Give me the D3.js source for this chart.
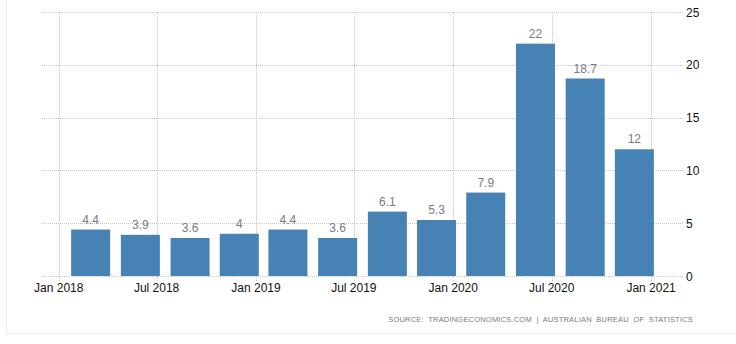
<!DOCTYPE html>
<html>
<head>
<meta charset="utf-8">
<script src="https://cdn.jsdelivr.net/npm/d3@7"></script>
<style>
  html, body { margin: 0; padding: 0; background: #fff; }
  svg { display: block; }
</style>
</head>
<body>
<svg id="chart" width="736" height="344"></svg>
<script>
// Quarterly values (bars centred on the first day of each quarter's last month)
const periods = ["2018-03-01","2018-06-01","2018-09-01","2018-12-01",
                 "2019-03-01","2019-06-01","2019-09-01","2019-12-01",
                 "2020-03-01","2020-06-01","2020-09-01","2020-12-01"];
const values = [4.4, 3.9, 3.6, 4, 4.4, 3.6, 6.1, 5.3, 7.9, 22, 18.7, 12];
const valueLabels = ["4.4","3.9","3.6","4","4.4","3.6","6.1","5.3","7.9","22","18.7","12"];
const xTickDates = ["2018-01-01","2018-07-01","2019-01-01","2019-07-01","2020-01-01","2020-07-01","2021-01-01"];
const xTickLabels = ["Jan 2018","Jul 2018","Jan 2019","Jul 2019","Jan 2020","Jul 2020","Jan 2021"];
const yTicks = [0, 5, 10, 15, 20, 25];
const sourceText = "SOURCE:  TRADINGECONOMICS.COM  |  AUSTRALIAN  BUREAU  OF  STATISTICS";

const parse = d3.utcParse("%Y-%m-%d");
const svg = d3.select("#chart");

const plot = { left: 42, right: 683, top: 12, bottom: 276 };

const x = d3.scaleUtc()
  .domain([parse("2017-12-01"), parse("2021-03-01")])
  .range([plot.left, plot.right]);

const y = d3.scaleLinear()
  .domain([0, 25])
  .range([plot.bottom, plot.top]);

const barWidth = 39;
const font = "'Liberation Sans', Arial, sans-serif";

// outer frame
svg.append("path")
  .attr("d", `M6.5,0 V333.5 H736`)
  .attr("fill", "none")
  .attr("stroke", "#ececec")
  .attr("stroke-width", 1);

// horizontal grid
svg.append("g")
  .selectAll("line")
  .data(yTicks)
  .join("line")
  .attr("x1", plot.left)
  .attr("x2", plot.right)
  .attr("y1", d => Math.round(y(d)) + 0.5)
  .attr("y2", d => Math.round(y(d)) + 0.5)
  .attr("stroke", "#c4c4c4")
  .attr("stroke-dasharray", "1,1");

// vertical grid
svg.append("g")
  .selectAll("line")
  .data(xTickDates)
  .join("line")
  .attr("x1", d => Math.round(x(parse(d))) + 0.5)
  .attr("x2", d => Math.round(x(parse(d))) + 0.5)
  .attr("y1", plot.top)
  .attr("y2", plot.bottom + 5)
  .attr("stroke", "#c4c4c4")
  .attr("stroke-dasharray", "1,1");

// bars
svg.append("g")
  .selectAll("rect")
  .data(values)
  .join("rect")
  .attr("x", (d, i) => x(parse(periods[i])) - barWidth / 2)
  .attr("width", barWidth)
  .attr("y", d => y(d))
  .attr("height", d => y(0) - y(d))
  .attr("fill", "#4682b4");

// value labels
svg.append("g")
  .selectAll("text")
  .data(values)
  .join("text")
  .attr("x", (d, i) => x(parse(periods[i])))
  .attr("y", d => y(d) - 6)
  .attr("text-anchor", "middle")
  .attr("font-family", font)
  .attr("font-size", 12)
  .attr("fill", "#7a7a84")
  .text((d, i) => valueLabels[i]);

// x axis labels
svg.append("g")
  .selectAll("text")
  .data(xTickDates)
  .join("text")
  .attr("x", d => x(parse(d)))
  .attr("y", 292)
  .attr("text-anchor", "middle")
  .attr("font-family", font)
  .attr("font-size", 12)
  .attr("fill", "#111")
  .text((d, i) => xTickLabels[i]);

// y axis labels
svg.append("g")
  .selectAll("text")
  .data(yTicks)
  .join("text")
  .attr("x", 686)
  .attr("y", d => y(d) + 4.5)
  .attr("text-anchor", "start")
  .attr("font-family", font)
  .attr("font-size", 12)
  .attr("fill", "#111")
  .text(d => d);

// source line
svg.append("text")
  .attr("x", 693)
  .attr("y", 322)
  .attr("text-anchor", "end")
  .attr("font-family", font)
  .attr("font-size", 7.5)
  .attr("letter-spacing", 0.2)
  .attr("xml:space", "preserve")
  .style("white-space", "pre")
  .attr("fill", "#7a7a84")
  .text(sourceText);
</script>
</body>
</html>
